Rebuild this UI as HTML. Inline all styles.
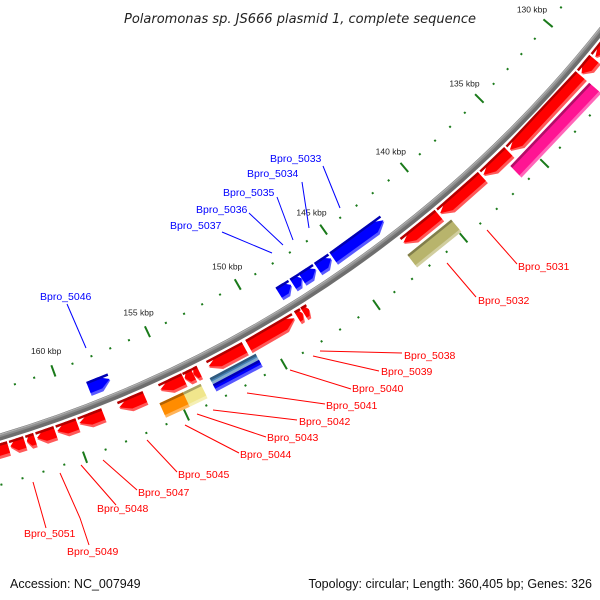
<!DOCTYPE html>
<html><head><meta charset="utf-8"><style>
html,body{margin:0;padding:0;background:#fff}
svg{display:block}
text{font-family:"Liberation Sans",sans-serif}
</style></head><body>
<svg id="map" width="600" height="600" viewBox="0 0 600 600" xmlns="http://www.w3.org/2000/svg">
<text x="300" y="23" text-anchor="middle" font-size="13" font-style="italic" fill="#222" style="font-family:'DejaVu Sans',sans-serif">Polaromonas sp. JS666 plasmid 1, complete sequence</text>
<text x="10" y="588" font-size="12.5" fill="#111">Accession: NC_007949</text>
<text x="592" y="588" text-anchor="end" font-size="12.5" fill="#111">Topology: circular; Length: 360,405 bp; Genes: 326</text>
<g id="ticks"></g><g id="backbone"></g><g id="genes"></g><g id="labels"></g>
</svg>
<script>
const tickKbp = [127,128,129,130,131,132,133,134,135,136,137,138,139,140,141,142,143,144,145,146,147,148,149,150,151,152,153,154,155,156,157,158,159,160,161,162,163,164,165];
const majorLabels = ["130 kbp","135 kbp","140 kbp","145 kbp","150 kbp","155 kbp","160 kbp"];
const majorKbp = [130,135,140,145,150,155,160];
const geneStart = [127.0,129.9,130.9,135.8,137.5,140.2, 130.9,139.9, 142.4,145.5,146.4,147.2,147.8,157.6, 148.5,148.05,147.7,151.2,150.9,150.9,153.6,153.9,154.4,154.7,153.8,156.4,158.5,159.8,160.9,161.9,162.4,163.2];
const geneEnd   = [129.8,130.8,135.7,137.4,140.1,142.3, 136.2,142.5, 145.4,146.3,147.2,147.7,148.5,158.7, 151.0,148.35,148.0,153.1,153.3,153.3,153.9,154.35,155.6,155.9,154.7,157.7,159.7,160.8,161.8,162.3,163.1,164.3];
const geneTrack = ["r","r","r","r","r","r","o","o","b","b","b","b","b","b","r","r","r","r","sa","sb","r","r","r","o","o","r","r","r","r","r","r","r"];
const geneColor = ["red","red","red","red","red","red","#ff1493","#b8b46c","blue","blue","blue","blue","blue","blue","red","red","red","red","#4682b4","blue","red","red","red","#ff8c00","#f0e68c","red","red","red","red","red","red","red"];
const geneDir   = [1,1,1,1,1,1,0,0,-1,-1,-1,-1,-1,-1,-1,-1,-1,1,0,0,1,1,1,0,0,1,1,1,1,1,1,1];
const labelText = ["Bpro_5031","Bpro_5032","Bpro_5038","Bpro_5039","Bpro_5040","Bpro_5041","Bpro_5042","Bpro_5043","Bpro_5044","Bpro_5045","Bpro_5047","Bpro_5048","Bpro_5051","Bpro_5049","Bpro_5033","Bpro_5034","Bpro_5035","Bpro_5036","Bpro_5037","Bpro_5046"];
const labelColor = ["red","red","red","red","red","red","red","red","red","red","red","red","red","red","blue","blue","blue","blue","blue","blue"];
const labelX = [518,478,404,381,352,326,299,267,240,178,138,97,24,67,270,247,223,196,170,40];
const labelY = [270,304,359,375,392,409,425,441,458,478,496,512,537,555,162,177,196,213,229,300];
const lineSeg = [
 [[487,230],[517,264]],[[447,263],[476,297]],[[320,351],[402,353]],[[313,356],[379,371]],[[290,370],[351,389]],
 [[247,393],[325,404]],[[213,410],[297,420]],[[197,414],[266,437]],[[185,425],[239,453]],[[147,440],[177,472]],
 [[103,460],[137,490]],[[81,465],[116,505]],[[33,482],[46,528]],[[60,473],[80,518],[89,545]],
 [[323,166],[340,208]],[[302,182],[309,228]],[[277,197],[293,240]],[[249,213],[283,245]],[[222,232],[272,253]],[[67,304],[86,348]]];

const CX=-348, CY=-726;
const NS="http://www.w3.org/2000/svg";
function ang(k){return (44.9+(k-135))*Math.PI/180;}
function pt(k,r){const a=ang(k);return [CX+r*Math.cos(a),CY+r*Math.sin(a)];}
function mk(tag,attrs,parent){const e=document.createElementNS(NS,tag);for(const k in attrs)e.setAttribute(k,attrs[k]);parent.appendChild(e);return e;}
const tg=document.getElementById('ticks');
tickKbp.forEach(k=>{
  const major=(k%5===0);
  [1168,1260].forEach((r,ri)=>{
    const d=major?6:1;
    const p1=pt(k,r-d),p2=pt(k,r+d);
    const l=mk('line',{x1:p1[0],y1:p1[1],x2:p2[0],y2:p2[1],stroke:'#1a7a1a','stroke-width':2},tg);
    
    
  });
});
majorKbp.forEach((k,i)=>{
  const p=pt(k,1147);
  const t=mk('text',{x:p[0],y:p[1]+3,'text-anchor':'middle','font-size':8.5,fill:'#222'},tg);
  t.textContent=majorLabels[i];
  
  
});
const bb=document.getElementById('backbone');
function arcPath(r){const a=pt(120,r),b=pt(170,r);return `M${a[0]},${a[1]} A${r},${r} 0 0 1 ${b[0]},${b[1]}`;}
[[1214,7,'#6e6e6e'],[1212.5,3,'#8e8e8e'],[1211.5,1.2,'#b0b0b0']].forEach(s=>{
  const p=mk('path',{d:arcPath(s[0]),stroke:s[2],'stroke-width':s[1],fill:'none'},bb);
  
  
});
const trackR={r:[1220,1235],o:[1238,1254],b:[1190,1205],sa:[1237,1244],sb:[1244,1252]};
function shape(s,e,r0,r1,dir){
  const len=e-s, tip=Math.min(0.55,len*0.45), rm=(r0+r1)/2;
  let pts=[];
  if(dir===1){
    const b=e-tip;
    pts=[pt(s,r0),pt(b,r0),pt(e,rm),pt(b,r1),pt(s,r1)];
  }else if(dir===-1){
    const b=s+tip;
    pts=[pt(s,rm),pt(b,r0),pt(e,r0),pt(e,r1),pt(b,r1)];
  }else{pts=[pt(s,r0),pt(e,r0),pt(e,r1),pt(s,r1)];}
  return pts.map(p=>p[0].toFixed(1)+','+p[1].toFixed(1)).join(' ');
}
function shade(c,f){const m={red:[255,0,0],blue:[0,0,255],'#ff1493':[255,20,147],'#b8b46c':[184,180,108],'#4682b4':[70,130,180],'#ff8c00':[255,140,0],'#f0e68c':[240,230,140]}[c];
  return 'rgb('+m.map(v=>Math.round(f>1?v+(255-v)*(f-1):v*f)).join(',')+')';}
const gg=document.getElementById('genes');
geneStart.forEach((s,i)=>{
  const e=geneEnd[i],[r0,r1]=trackR[geneTrack[i]],c=geneColor[i],d=geneDir[i];
  const g=mk('g',{},gg);
  
  
  mk('polygon',{points:shape(s,e,r0,r1,d),fill:shade(c,1.35)},g);
  mk('polygon',{points:shape(s,e,r0,r1-3,d),fill:c},g);
  mk('polygon',{points:shape(s,e,r0,r0+2.5,0),fill:shade(c,0.7)},g);
});
const lg=document.getElementById('labels');
labelText.forEach((t,i)=>{
  const pl=mk('polyline',{points:lineSeg[i].map(p=>p.join(',')).join(' '),stroke:labelColor[i],'stroke-width':1,fill:'none'},lg);
  
  
  const tx=mk('text',{x:labelX[i],y:labelY[i],'font-size':10.5,fill:labelColor[i]},lg);
  tx.textContent=t;
  
  
});
</script>
</body></html>
